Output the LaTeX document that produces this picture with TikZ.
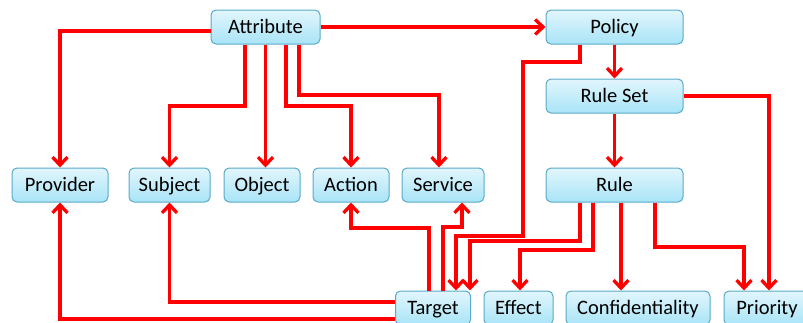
\documentclass[tikz,border=0pt]{standalone}
\usepackage{fontspec}
\setmainfont{Carlito}
\usetikzlibrary{arrows.meta}

\definecolor{boxtop}{RGB}{226,246,253}
\definecolor{boxbottom}{RGB}{168,228,247}
\definecolor{boxline}{RGB}{88,170,200}
\definecolor{linkred}{RGB}{255,0,0}

\tikzset{
  entity/.style={draw=boxline, line width=1pt, rounded corners=5pt,
    top color=boxtop, bottom color=boxbottom, inner sep=0pt,
    minimum height=34pt, text height=13.2pt, text depth=0pt,
    font=\fontsize{20.5}{23}\selectfont, text=black},
  link/.style={draw=linkred, line width=3.3pt, line join=miter,
    -{Straight Barb[length=8pt,width=15pt]}},
}

\begin{document}
\begin{tikzpicture}[x=1pt, y=-1pt]
\useasboundingbox (0,0) rectangle (803,322);
\clip (0,0) rectangle (803,322);

% top row
\node[entity, minimum width=109pt] (attr)   at (265.5,27) {Attribute};
\node[entity, minimum width=137pt] (policy) at (614.5,27) {Policy};
\node[entity, minimum width=137pt] (ruleset) at (614.5,96) {Rule Set};

% middle row
\node[entity, minimum width=96pt]  (provider) at (60,185)    {Provider};
\node[entity, minimum width=81pt]  (subject)  at (169.5,185) {Subject};
\node[entity, minimum width=76pt]  (object)   at (262,185)   {Object};
\node[entity, minimum width=76pt]  (action)   at (351,185)   {Action};
\node[entity, minimum width=82pt]  (service)  at (443,185)   {Service};
\node[entity, minimum width=137pt] (rule)     at (614.5,185) {Rule};

% bottom row
\node[entity, minimum width=75pt]  (target)   at (433,308)   {Target};
\node[entity, minimum width=69pt]  (effect)   at (518.5,308) {Effect};
\node[entity, minimum width=144pt] (conf)     at (638,308)   {Confidentiality};
\node[entity, minimum width=86pt]  (priority) at (767,308)   {Priority};

% Attribute
\draw[link] (attr.west |- 0,31) -| (provider.north);
\draw[link] (attr.east) -- (policy.west);
\draw[link] (attr.south -| 245,0) -- (245,106) -| (subject.north);
\draw[link] (attr.south -| 265.5,0) -- (object.north -| 265.5,0);
\draw[link] (attr.south -| 286,0) -- (286,106) -| (action.north);
\draw[link] (attr.south -| 299,0) -- (299,95) -| (service.north -| 439,0);

% Policy, Rule Set, Rule
\draw[link] (policy.south) -- (ruleset.north);
\draw[link] (ruleset.south) -- (rule.north);
\draw[link] (ruleset.east) -| (priority.north -| 769,0);
\draw[link] (policy.south -| 580,0) -- (580,62) -- (523,62) -- (523,236)
  -| (target.north -| 456,0);
\draw[link] (rule.south -| 580,0) -- (580,241) -| (target.north -| 470,0);
\draw[link] (rule.south -| 593,0) -- (593,250) -| (effect.north -| 520,0);
\draw[link] (rule.south -| 621,0) -- (conf.north -| 621,0);
\draw[link] (rule.south -| 655,0) -- (655,247) -| (priority.north -| 744,0);

% Target
\draw[link] (target.north -| 429,0) -- (429,228) -| (action.south);
\draw[link] (target.north -| 443,0) -- (443,227) -| (service.south -| 462,0);
\draw[link] (target.west |- 0,302) -| (subject.south);
\draw[link] (target.west |- 0,319) -| (provider.south);
\end{tikzpicture}
\end{document}
